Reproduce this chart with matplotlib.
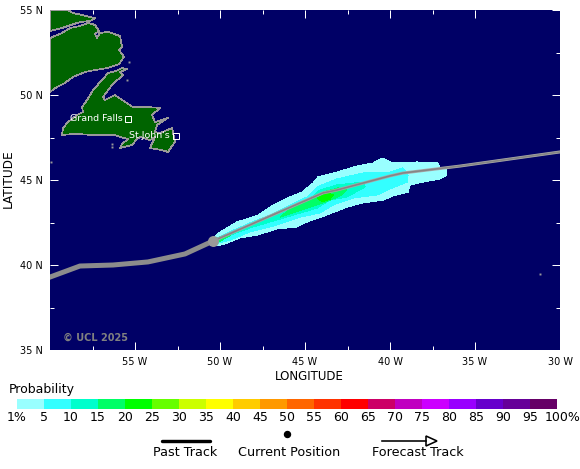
# Hurricane strike probability map, 17 px per degree

import matplotlib
matplotlib.use('Agg')
import matplotlib.pyplot as plt
from matplotlib.transforms import ScaledTranslation

W = 580
H = 469

# land outlines, lon / lat
north_lon = [-60, -58.94, -58.65, -58.12, -57.65, -57.35, -57.65, -58.24, -58.94, -59.29, -60]
north_lat = [55, 55, 54.82, 54.71, 54.59, 54.53, 54.35, 54.29, 54.06, 53.94, 53.76]

labrador_lon = [-60, -59.29, -58.82, -58.24, -57.76, -57.35, -57.12, -57.35, -57.24, -57.06, -56.59, -55.88,
                -55.76, -55.94, -55.65, -55.94, -56.59, -57.35, -57.94, -58.65, -59.12, -59.59, -60]
labrador_lat = [53.35, 53.65, 53.94, 54.06, 54.24, 54.12, 53.76, 53.59, 53.35, 53.65, 53.71, 53.47,
                52.82, 52.65, 52.24, 51.82, 51.59, 51.47, 51.35, 51.06, 50.71, 50.47, 50.18]

nfld_lon = [-55.47, -55.76, -56.12, -56.59, -56.94, -57.47, -57.82, -58.12, -58.06, -58.41, -58.94, -59.24, -59.29,
            -58.53, -57.47, -56.18, -55.88, -55.41, -55.76, -55.88, -55.18, -54.88, -54.71, -54.12, -53.82, -54.12,
            -53.41, -53.06, -52.65, -52.82, -53.24, -53.53, -53.82, -53.71, -53.06, -53.82, -54.0, -53.53, -54.24,
            -55.12, -55.76, -56.18, -56.76, -56.88, -56.35, -55.71, -55.88]
nfld_lat = [51.53, 51.59, 51.41, 51.29, 50.88, 50.29, 49.71, 49.29, 49.0, 48.82, 48.41, 48.06, 47.65,
            47.71, 47.65, 47.65, 47.53, 47.41, 47.12, 46.88, 47.06, 47.41, 47.53, 47.35, 47.53, 46.88,
            46.76, 46.65, 47.24, 48.06, 47.88, 47.76, 47.82, 48.24, 48.65, 48.41, 48.82, 49.24, 49.29,
            49.29, 49.71, 50.0, 49.71, 49.88, 50.59, 51.18, 51.35]

speck_lon = [-59.95, -56.35, -56.35, -55.47, -55.35, -31.18]
speck_lat = [46.06, 47.12, 46.95, 50.88, 51.94, 39.47]

# probability contours
p1_lon = [-50.59, -50, -49, -47.76, -47.06, -46.06, -45.18, -44.53, -44.24, -43.12, -41.94, -41, -40.47, -39.82,
          -38.41, -37.18, -37.06, -36.65, -36.65, -37.06, -38.06, -38.82, -38.94, -39.82, -40.41, -41.59, -42.53,
          -43.71, -44.88, -45.47, -46.65, -47.82, -48.82, -49.59, -50.12, -50.59]
p1_lat = [41.47, 41.94, 42.53, 42.94, 43.41, 43.94, 44.29, 44.82, 45.18, 45.47, 45.82, 46, 46.29, 46,
          46.06, 46, 45.76, 45.71, 45.29, 45.06, 44.88, 44.71, 44.29, 44.06, 43.82, 43.65, 43.41,
          42.94, 42.53, 42.24, 42.12, 41.76, 41.59, 41.29, 41.12, 41.18]

p5_lon = [-50.41, -49.59, -48.24, -47.06, -45.88, -44.88, -44.29, -43.12, -41.59, -40, -39.24, -38.94, -39, -39.88,
          -40.76, -42.18, -43.35, -44.12, -45.29, -46.88, -48.24, -49.41, -50.12]
p5_lat = [41.47, 41.88, 42.47, 42.94, 43.53, 44, 44.59, 45.06, 45.41, 45.47, 45.71, 45.29, 44.88, 44.53,
          44.12, 43.94, 43.53, 43.06, 42.82, 42.29, 41.94, 41.47, 41.29]

p10_lon = [-50.18, -48.65, -47.06, -45.71, -44.59, -44.12, -43.12, -41.59, -41.47, -42.53, -43.53, -44.29, -45.47,
           -46.65, -48.06, -49.41]
p10_lat = [41.59, 42.18, 42.76, 43.35, 44, 44.41, 44.71, 44.88, 44.59, 44, 43.82, 43.35, 43,
           42.65, 42.24, 41.76]

p15_lon = [-44.24, -43.94, -43.06, -42.53, -42.94, -43.94, -44.88, -45.71, -46.47, -45.88, -44.88]
p15_lat = [44.12, 44.29, 44.53, 44.41, 44.06, 43.65, 43.35, 43.06, 42.82, 43.29, 43.71]

p15b_lon = [-50.18, -49.59, -49.41, -50]
p15b_lat = [41.53, 41.76, 41.71, 41.41]

p20_lon = [-44.24, -43.71, -43.35, -43.53, -44]
p20_lat = [43.94, 44.24, 44.12, 43.88, 43.71]

# track
past_lon = [-60, -58.24, -56.29, -54.24, -52.06, -50.41]
past_lat = [39.29, 39.94, 40, 40.18, 40.65, 41.41]
fore_lon = [-50.41, -43.94, -43.12, -40, -39.24, -35.88, -30]
fore_lat = [41.41, 44.24, 44.41, 45.24, 45.41, 45.82, 46.65]

# cities
city_names = ['Grand Falls', "St John's"]
city_lon = [-55.41, -52.6]
city_lat = [48.59, 47.59]

# colour scale
scale_labels = ['1%', '5', '10', '15', '20', '25', '30', '35', '40', '45', '50', '55', '60', '65', '70', '75',
                '80', '85', '90', '95', '100%']
scale_colours = ['#99ffff', '#33ffff', '#00ffcc', '#00ff66', '#00ff00', '#66ff00', '#ccff00', '#ffff00', '#ffcc00',
                 '#ff9900', '#ff6600', '#ff3300', '#ff0000', '#cc0066', '#c000c0', '#cc00ff', '#9900ff', '#6600cc',
                 '#660099', '#660066']

x_ticks = [-55, -50, -45, -40, -35, -30]
x_labels = ['55 W', '50 W', '45 W', '40 W', '35 W', '30 W']
y_ticks = [35, 40, 45, 50, 55]
y_labels = ['35 N', '40 N', '45 N', '50 N', '55 N']
x_minor = [-57.5, -52.5, -47.5, -42.5, -37.5]
y_minor = [37.5, 42.5, 47.5, 52.5]

NAVY = '#000066'
LAND = '#006400'
COAST = '#999999'
px = 0.72  # one pixel in points


def box(left, top, right, bottom):
    return [left / W, 1 - bottom / H, (right - left) / W, (bottom - top) / H]


fig = plt.figure(figsize=(W / 100, H / 100), dpi=100, facecolor='white')

ax = fig.add_axes(box(50, 10, 560, 350), facecolor=NAVY)
ax.set_xlim(-60, -30)
ax.set_ylim(35, 55)

for lon, lat in [(north_lon, north_lat), (labrador_lon, labrador_lat), (nfld_lon, nfld_lat)]:
    ax.fill(lon, lat, facecolor=LAND, edgecolor=COAST, linewidth=0.5, antialiased=False, zorder=2)
ax.plot(speck_lon, speck_lat, ls='none', marker='s', ms=1.4, mfc=COAST, mec='none', zorder=2)

levels = [(p1_lon, p1_lat, scale_colours[0]), (p5_lon, p5_lat, scale_colours[1]),
          (p10_lon, p10_lat, scale_colours[2]), (p15_lon, p15_lat, scale_colours[3]),
          (p15b_lon, p15b_lat, scale_colours[3]), (p20_lon, p20_lat, scale_colours[4])]
for lon, lat, col in levels:
    ax.fill(lon, lat, facecolor=col, edgecolor='none', antialiased=False, zorder=3)

ax.plot(past_lon, past_lat, color='#8c8c8c', lw=5 * px, solid_joinstyle='round', zorder=4)
ax.plot(fore_lon, fore_lat, color='#a8a8a8', lw=3 * px, zorder=4)
ax.plot(fore_lon, fore_lat, color='#858585', lw=1.6 * px, zorder=5)
ax.plot(past_lon[-1], past_lat[-1], marker='o', ms=11 * px, mfc='#999999', mec='none', zorder=6)

for name, lon, lat in zip(city_names, city_lon, city_lat):
    ax.plot(lon, lat, marker='s', ms=6 * px, mfc='none', mec='white', mew=px, zorder=7)
    ax.annotate(name, (lon, lat), xytext=(-4, 0), textcoords='offset points', ha='right', va='center',
                color='white', fontsize=6.8, zorder=7)

ax.annotate('\u00a9 UCL 2025', (0.025, 0.035), xycoords='axes fraction', color='#808080', fontsize=7,
            fontweight='bold', va='center', zorder=7)

ax.set_xticks(x_ticks)
ax.set_xticklabels(x_labels)
ax.set_yticks(y_ticks)
ax.set_yticklabels(y_labels)
ax.set_xticks(x_minor, minor=True)
ax.set_yticks(y_minor, minor=True)
ax.tick_params(which='major', direction='in', length=8 * px, width=px, color='white', top=True, right=True,
               labelsize=7, pad=5)
ax.tick_params(which='minor', direction='in', length=4 * px, width=px, color='white', top=True, right=True)
for s in ax.spines.values():
    s.set_visible(False)

# colour bar
cax = fig.add_axes(box(17, 399, 557, 409))
cax.bar(range(len(scale_colours)), 1, width=1, align='edge', color=scale_colours, linewidth=0)
cax.set_xlim(0, len(scale_colours))
cax.set_ylim(0, 1)
cax.set_yticks([])
cax.set_xticks(range(len(scale_labels)))
cax.set_xticklabels(scale_labels, fontsize=9)
cax.tick_params(axis='x', length=0, pad=1.5)
# the last label sits to the right of its tick
last = cax.get_xticklabels()[-1]
last.set_transform(last.get_transform() + ScaledTranslation(6 / 100, 0, fig.dpi_scale_trans))
for s in cax.spines.values():
    s.set_visible(False)

# key below the bar, drawn in figure pixels
key = fig.add_axes([0, 0, 1, 1], facecolor='none')
key.set_xlim(0, W)
key.set_ylim(H, 0)
key.axis('off')
key.text(309, 376, 'LONGITUDE', fontsize=8.5, ha='center', va='center')
key.text(8, 179, 'LATITUDE', fontsize=8.7, ha='center', va='center', rotation=90)
key.text(9, 389, 'Probability', fontsize=9, va='center')
key.plot([162, 210], [441, 441], color='black', lw=3.4 * px, solid_capstyle='round')
key.text(185, 453, 'Past Track', fontsize=9.2, ha='center', va='center')
key.plot(287, 434, marker='o', ms=6 * px, color='black')
key.text(289.5, 453, 'Current Position', fontsize=9.2, ha='center', va='center')
key.plot([382, 426], [441, 441], color='black', lw=1.6 * px)
key.fill([426, 437, 426], [436, 441, 446], facecolor='white', edgecolor='black', linewidth=1.6 * px)
key.text(417.5, 453, 'Forecast Track', fontsize=9.2, ha='center', va='center')

fig.savefig('out.png', dpi=100)
